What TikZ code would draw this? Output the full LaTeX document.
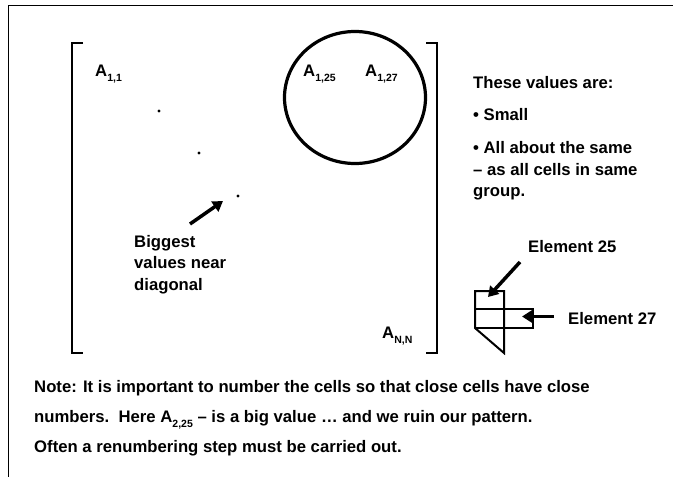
\documentclass[tikz,border=0pt]{standalone}
\usepackage{fontspec}
\setmainfont{Liberation Sans}
\usetikzlibrary{arrows.meta}
\newcommand\mysub[1]{\raisebox{-0.32em}{\fontsize{10.5}{10.5}\selectfont #1}}
\begin{document}
\begin{tikzpicture}[x=1pt,y=-1pt,
  txt/.style={anchor=base west, inner sep=0pt, font=\fontsize{16.7}{20}\selectfont\bfseries},
  frameline/.style={line width=1.3pt},
  brk/.style={line width=2pt},
  bigarrow/.style={line width=3.5pt, -{Triangle[length=10pt,width=12pt]}},
  elem/.style={line width=2pt, line join=miter},
  dotmark/.style={fill=black}]
\useasboundingbox (0,0) rectangle (673,477);
\fill[white] (0,0) rectangle (673,477);
% frame
\draw[frameline] (8.3,477) -- (8.3,5.7) -- (673,5.7);
% brackets
\draw[brk] (83,42.5) -- (72,42.5) -- (72,353) -- (83,353);
\draw[brk] (426,42.5) -- (437,42.5) -- (437,353) -- (426,353);
% circle
\draw[line width=3.2pt] (355,97.5) ellipse [x radius=70.5, y radius=66];
% entries
\node[txt] (a11) at (95,76) {A\mysub{1,1}};
\node[txt] (a125) at (303,76) {A\mysub{1,25}};
\node[txt] (a127) at (365,76) {A\mysub{1,27}};
\node[txt] (ann) at (382,338) {A\mysub{N,N}};
% diagonal dots
\fill[dotmark] (159,111) circle (1.6);
\fill[dotmark] (199,153) circle (1.6);
\fill[dotmark] (238,196) circle (1.6);
% biggest text
\node[txt] (big1) at (134,247) {Biggest};
\node[txt] (big2) at (134,268.5) {values near};
\node[txt] (big3) at (134,290) {diagonal};
\coordinate (bigtail) at (190,224);
\coordinate (bighead) at (223,201);
\draw[bigarrow] (bigtail) -- (bighead);
% right text
\node[txt] (r1) at (473,88) {These values are:};
\node[txt] (r2) at (473,120) {• Small};
\node[txt] (r3) at (473,153) {• All about the same};
\node[txt] (r4) at (473,175) {– as all cells in same};
\node[txt] (r5) at (473,196.5) {group.};
% element diagram
\draw[elem] (475,328) -- (475,291) -- (504,291) -- (504,353) -- cycle;
\draw[elem] (475,309) -- (533,309) -- (533,328) -- (475,328);
\node[txt] (e25) at (528,252) {Element 25};
\node[txt] (e27) at (568,324) {Element 27};
\coordinate (e25tail) at (520,262);
\coordinate (e25head) at (488,297);
\coordinate (e27tail) at (554,316.5);
\coordinate (e27head) at (522,316.5);
\draw[bigarrow] (e25tail) -- (e25head);
\draw[bigarrow] (e27tail) -- (e27head);
% note
\node[txt] (n1) at (34,392) {Note: It is important to number the cells so that close cells have close};
\node[txt] (n2) at (34,422.5) {numbers.\ \ Here A\mysub{2,25} – is a big value … and we ruin our pattern.};
\node[txt] (n3) at (34,452.5) {Often a renumbering step must be carried out.};
\end{tikzpicture}
\end{document}
